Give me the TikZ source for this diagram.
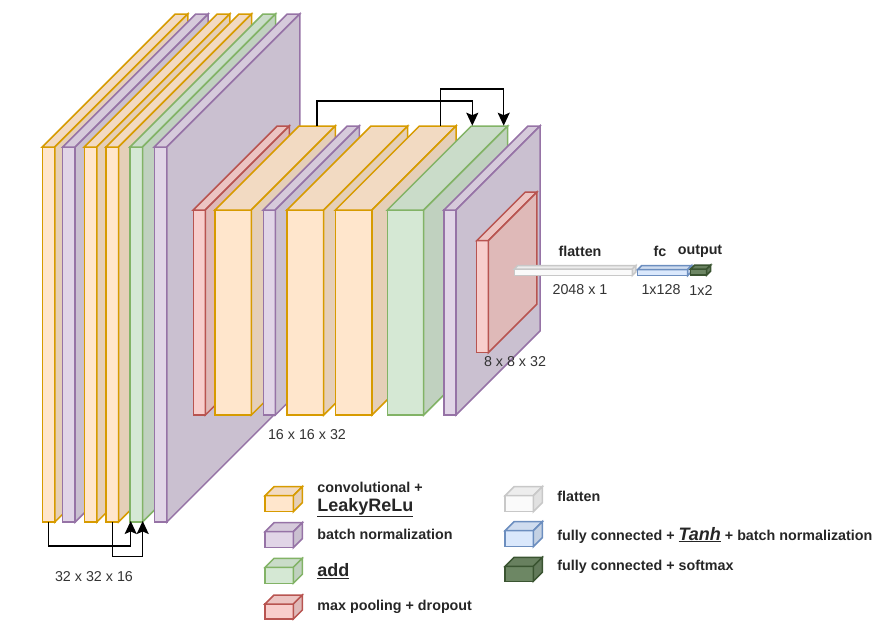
\documentclass[tikz,border=0pt]{standalone}
\usepackage{fontspec}
\setmainfont{Liberation Sans}
\usetikzlibrary{arrows.meta}

\definecolor{convfill}{HTML}{FFE6CC}\definecolor{convline}{HTML}{D79B00}
\definecolor{bnfill}{HTML}{E1D5E7}\definecolor{bnline}{HTML}{9673A6}
\definecolor{addfill}{HTML}{D5E8D4}\definecolor{addline}{HTML}{82B366}
\definecolor{poolfill}{HTML}{F8CECC}\definecolor{poolline}{HTML}{B85450}
\definecolor{flatfill}{HTML}{FAFAFA}\definecolor{flatline}{HTML}{C8C8C8}
\definecolor{fcfill}{HTML}{DAE8FC}\definecolor{fcline}{HTML}{6C8EBF}
\definecolor{smfill}{HTML}{6D8764}\definecolor{smline}{HTML}{3A5431}

% kind, x, y, width, height, depth
\newcommand{\slab}[6]{%
  \filldraw[draw=#1line,fill=#1fill] (#2,#3) rectangle ++(#4,#5);
  \filldraw[draw=#1line,fill=#1fill!95!black] (#2,#3) -- ++(#6,-#6) -- ++(#4,0) -- ++(-#6,#6) -- cycle;
  \filldraw[draw=#1line,fill=#1fill!90!black] (#2+#4,#3) -- ++(#6,-#6) -- ++(0,#5) -- ++(-#6,#6) -- cycle;
}

\tikzset{
  dim/.style={font=\fontsize{14.3}{16}\selectfont,text=black!80,inner sep=0pt},
  head/.style={font=\fontsize{14.3}{16}\selectfont\bfseries,text=black!85,inner sep=0pt},
  leg/.style={font=\fontsize{14.3}{16}\selectfont\bfseries,text=black!85,inner sep=0pt,anchor=west},
  res/.style={-{Stealth[length=13pt,width=12pt,inset=2.5pt]},line width=1.5pt,black}
}

\begin{document}
\begin{tikzpicture}[x=1pt,y=-1pt,line width=1.5pt]
  \useasboundingbox (0,0) rectangle (878,630);

  \foreach \kind/\xx in {conv/42.3,bn/62.7,conv/84.3,conv/106,add/130,bn/154.3}
    \slab{\kind}{\xx}{147}{12.5}{375}{133};

  \foreach \kind/\xx/\ww in {pool/193.3/12,conv/215/36.3,bn/263.3/12,conv/287/36.7,conv/335.3/36.7,add/387.3/36.4,bn/444/12}
    \slab{\kind}{\xx}{210}{\ww}{205}{84};

  \slab{pool}{476.7}{240.7}{11.6}{112}{48.5}
  \slab{flat}{514.3}{269}{118}{6.5}{3.5}
  \slab{fc}{637.7}{269.5}{50}{6}{4}
  \slab{sm}{690.7}{269}{16}{6}{4}

  \coordinate (s1) at (48.3,522);
  \coordinate (s2) at (112.3,522);
  \coordinate (a1) at (130.7,521);
  \coordinate (a2) at (142.7,521);
  \draw[res] (s1) -- ++(0,24) -| (a1);
  \draw[res] (s2) -- ++(0,34.7) -| (a2);

  \coordinate (t1) at (317,125.7);
  \coordinate (t2) at (440.7,125.7);
  \coordinate (g1) at (472.3,125.7);
  \coordinate (g2) at (503.7,125.7);
  \draw[res] (t1) -- ++(0,-24.7) -| (g1);
  \draw[res] (t2) -- ++(0,-36.7) -| (g2);

  \node[dim] (d32) at (94,577) {32 x 32 x 16};
  \node[dim] (d16) at (307,435) {16 x 16 x 32};
  \node[dim] (d8) at (515,362) {8 x 8 x 32};
  \node[head] (hflat) at (580,251) {flatten};
  \node[head] (hfc) at (660,251) {fc};
  \node[head] (hout) at (700,251) {output};
  \node[dim] (nflat) at (580,290) {2048 x 1};
  \node[dim] (nfc) at (661,290) {1x128};
  \node[dim] (nout) at (701,290) {1x2};

  \slab{conv}{265}{495.7}{28.3}{16}{9}
  \slab{bn}{265}{531.7}{28.3}{16}{9}
  \slab{add}{265}{567.3}{28.3}{16}{9}
  \slab{pool}{265}{604}{28.3}{15}{9}
  \slab{flat}{505}{495.7}{28.3}{16}{9}
  \slab{fc}{505}{530.7}{28.3}{16}{9}
  \slab{sm}{505}{566.3}{28.3}{15}{9}

  \node[leg] (lconv) at (316.7,487) {convolutional +};
  \node[leg,font=\fontsize{18}{20}\selectfont\bfseries] (lrelu) at (316.7,507.5) {\underline{LeakyReLu}};
  \node[leg] (lbn) at (316.7,534) {batch normalization};
  \node[leg,font=\fontsize{18}{20}\selectfont\bfseries] (ladd) at (316.7,571) {\underline{add}};
  \node[leg] (lpool) at (316.7,607) {max pooling + dropout};
  \node[leg] (lflat) at (556.7,496) {flatten};
  \node[leg] (lfc) at (556.7,535) {fully connected + {\fontsize{18}{20}\selectfont\itshape\underline{Tanh}} + batch normalization};
  \node[leg] (lsm) at (556.7,567) {fully connected + softmax};
\end{tikzpicture}
\end{document}
